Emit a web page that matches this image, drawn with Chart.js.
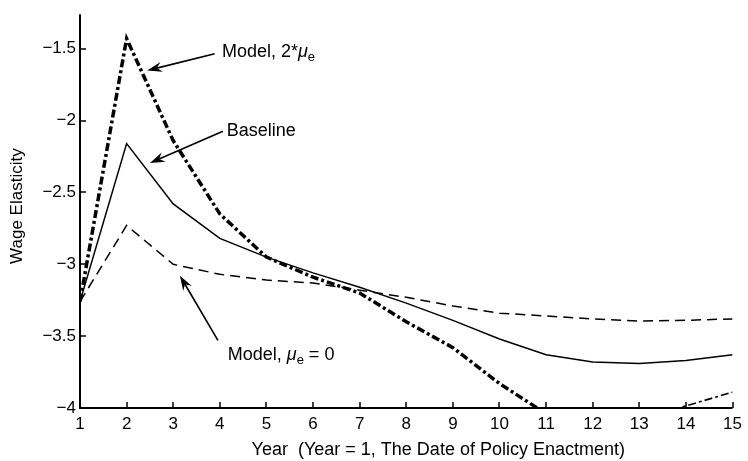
<!DOCTYPE html>
<html>
<head>
<meta charset="utf-8">
<title>Wage Elasticity</title>
<script src="https://cdn.jsdelivr.net/npm/chart.js@4.4.1/dist/chart.umd.min.js"></script>
<style>
  html, body { margin: 0; padding: 0; background: #fff; }
  #wrap { width: 748px; height: 461px; }
</style>
</head>
<body>
<div id="wrap"><canvas id="elast" width="748" height="461"></canvas></div>
<script>
// years since enactment and the three elasticity paths
var years = [1, 2, 3, 4, 5, 6, 7, 8, 9, 10, 11, 12, 13, 14, 15];
var baseline    = [-3.26, -2.16, -2.58, -2.82, -2.95, -3.06, -3.16, -3.27, -3.39, -3.52, -3.63, -3.68, -3.69, -3.67, -3.63];
var modelZero   = [-3.26, -2.73, -3.00, -3.07, -3.11, -3.13, -3.18, -3.23, -3.29, -3.34, -3.36, -3.38, -3.395, -3.39, -3.38];
var modelDouble = [-3.26, -1.43, -2.14, -2.65, -2.95, -3.09, -3.20, -3.40, -3.58, -3.83, -4.04, -4.15, -4.08, -3.985, -3.89];
var yTicks = [-4, -3.5, -3, -2.5, -2, -1.5];
var yRange = [-4, -1.26];

// callouts: label anchor plus arrow tail/tip, all in data units
var callouts = [
  { parts: [['Model, 2*'], ['\u03bc', 'it'], ['e', 'sub']], at: [4.045, -1.555], from: [3.89, -1.535], to: [2.44, -1.652] },
  { parts: [['Baseline']], at: [4.15, -2.109], from: [4.066, -2.075], to: [2.50, -2.296] },
  { parts: [['Model, '], ['\u03bc', 'it'], ['e', 'sub'], [' = 0']], at: [4.17, -3.668], from: [3.959, -3.529], to: [3.144, -3.079] }
];

var FONT = "'Liberation Sans', Arial, Helvetica, sans-serif";
Chart.defaults.font.family = FONT;
Chart.defaults.color = '#000';

function pairs(ys) {
  return years.map(function (x, i) { return { x: x, y: ys[i] }; });
}

function drawArrow(ctx, x0, y0, x1, y1) {
  var ang = Math.atan2(y1 - y0, x1 - x0), c = Math.cos(ang), s = Math.sin(ang);
  var len = 15, half = 5, back = 10;
  ctx.beginPath();
  ctx.moveTo(x0, y0);
  ctx.lineTo(x1 - back * c, y1 - back * s);
  ctx.stroke();
  ctx.beginPath();
  ctx.moveTo(x1, y1);
  ctx.lineTo(x1 - len * c + half * s, y1 - len * s - half * c);
  ctx.lineTo(x1 - back * c, y1 - back * s);
  ctx.lineTo(x1 - len * c - half * s, y1 - len * s + half * c);
  ctx.closePath();
  ctx.fill();
}

function drawRich(ctx, parts, x, y) {
  parts.forEach(function (p) {
    var dy = 0;
    if (p[1] === 'it') ctx.font = 'italic 18px ' + FONT;
    else if (p[1] === 'sub') { ctx.font = '13px ' + FONT; dy = 4; }
    else ctx.font = '18px ' + FONT;
    ctx.fillText(p[0], x, y + dy);
    x += ctx.measureText(p[0]).width;
  });
}

// axis lines, inward ticks, axis titles and callouts
var decor = {
  id: 'decor',
  afterDraw: function (chart) {
    var ctx = chart.ctx, a = chart.chartArea, xs = chart.scales.x, ys = chart.scales.y;
    ctx.save();
    ctx.strokeStyle = '#000';
    ctx.fillStyle = '#000';
    ctx.lineWidth = 2;
    ctx.beginPath();
    ctx.moveTo(a.left, a.top);
    ctx.lineTo(a.left, a.bottom);
    ctx.lineTo(a.right, a.bottom);
    ctx.stroke();

    ctx.lineWidth = 1.5;
    ctx.beginPath();
    years.forEach(function (t) {
      var px = Math.round(xs.getPixelForValue(t));
      ctx.moveTo(px, a.bottom);
      ctx.lineTo(px, a.bottom - 6);
    });
    yTicks.forEach(function (t) {
      var py = Math.round(ys.getPixelForValue(t));
      ctx.moveTo(a.left, py);
      ctx.lineTo(a.left + 6, py);
    });
    ctx.stroke();

    ctx.textBaseline = 'alphabetic';
    ctx.textAlign = 'center';
    ctx.font = '18px ' + FONT;
    ctx.fillText('Year  (Year = 1, The Date of Policy Enactment)', (a.left + a.right) / 2 + 32, a.bottom + 47);

    ctx.save();
    ctx.translate(a.left - 58, (a.top + a.bottom) / 2 - 5);
    ctx.rotate(-Math.PI / 2);
    ctx.font = '17px ' + FONT;
    ctx.fillText('Wage Elasticity', 0, 0);
    ctx.restore();

    ctx.textAlign = 'left';
    ctx.lineWidth = 1.6;
    callouts.forEach(function (c) {
      drawRich(ctx, c.parts, xs.getPixelForValue(c.at[0]), ys.getPixelForValue(c.at[1]));
      drawArrow(ctx,
        xs.getPixelForValue(c.from[0]), ys.getPixelForValue(c.from[1]),
        xs.getPixelForValue(c.to[0]), ys.getPixelForValue(c.to[1]));
    });
    ctx.restore();
  }
};

new Chart(document.getElementById('elast'), {
  type: 'line',
  data: {
    datasets: [
      { label: 'Baseline', data: pairs(baseline), borderColor: '#000', borderWidth: 1.5 },
      { label: 'Model, mu_e = 0', data: pairs(modelZero), borderColor: '#000', borderWidth: 1.5, borderDash: [10, 6] },
      {
        label: 'Model, 2*mu_e', data: pairs(modelDouble), borderColor: '#000', borderWidth: 3.5,
        borderDash: [8, 3, 3, 3],
        // the tail end of the path is drawn thin
        segment: { borderWidth: function (ctx) { return ctx.p0.parsed.x >= 13 ? 1.6 : 3.5; } }
      }
    ]
  },
  options: {
    responsive: false,
    animation: false,
    devicePixelRatio: 1,
    clip: 0,
    layout: { padding: { top: 12, right: 15, left: 0, bottom: 0 } },
    elements: { point: { radius: 0 }, line: { tension: 0, borderCapStyle: 'butt' } },
    plugins: { legend: { display: false }, tooltip: { enabled: false } },
    scales: {
      x: {
        type: 'linear', min: 1, max: 15,
        grid: { display: false, drawTicks: false },
        border: { display: false },
        ticks: { stepSize: 1, padding: 6, font: { size: 17 }, maxRotation: 0 },
        afterFit: function (s) { s.height = 53; }
      },
      y: {
        min: yRange[0], max: yRange[1],
        grid: { display: false, drawTicks: false },
        border: { display: false },
        ticks: {
          padding: 4, font: { size: 17 },
          callback: function (v) { return v < 0 ? '\u2212' + Math.abs(v) : String(v); }
        },
        afterBuildTicks: function (s) { s.ticks = yTicks.map(function (v) { return { value: v }; }); },
        afterFit: function (s) { s.width = 80; }
      }
    }
  },
  plugins: [decor]
});
</script>
</body>
</html>
